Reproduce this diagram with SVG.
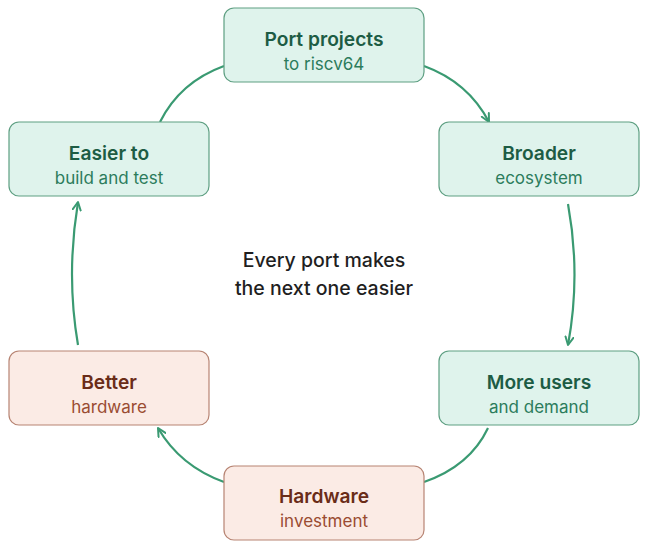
<svg xmlns="http://www.w3.org/2000/svg" width="651" height="546" viewBox="0 0 651 546">
<defs>
<marker id="arr" viewBox="0 0 10 10" refX="9" refY="5" markerWidth="10" markerHeight="10" markerUnits="userSpaceOnUse" orient="auto">
<path d="M1,1 L9,5 L1,9" fill="none" stroke="#3a9a72" stroke-width="2" stroke-linecap="round" stroke-linejoin="round"/>
</marker>
<style>
.g rect{fill:#dff3ec;stroke:#5e9f82;stroke-width:1.2}
.r rect{fill:#fbebe5;stroke:#b78473;stroke-width:1.2}
text{font-family:Inter,"Noto Sans","Liberation Sans",sans-serif;text-anchor:middle}
.t{font-size:19.2px;font-weight:600}
.s{font-size:17px}
.g .t{fill:#1d5c44}.g .s{fill:#2c7c5c}
.r .t{fill:#6a2c18}.r .s{fill:#9a4c32}
.c path{fill:none;stroke:#3a9a72;stroke-width:2.2}
.mid{font-size:19.5px;font-weight:500;fill:#1f1f1f}
</style>
</defs>
<g class="c" id="connectors">
<path d="M160,122 Q180,82 224,66"/>
<path d="M424,66 Q468,82 489,122" marker-end="url(#arr)"/>
<path d="M568,204 Q581,275 568,345" marker-end="url(#arr)"/>
<path d="M488,428 Q470,466 424,482"/>
<path d="M224,482 Q180,466 158,428" marker-end="url(#arr)"/>
<path d="M78,345 Q66,275 78,202" marker-end="url(#arr)"/>
</g>
<g id="port" class="g"><rect x="224" y="8" width="200" height="74" rx="10"/><text class="t" x="324" y="46">Port projects</text><text class="s" x="324" y="70">to riscv64</text></g>
<g id="easier" class="g"><rect x="9" y="122" width="200" height="74" rx="10"/><text class="t" x="109" y="160">Easier to</text><text class="s" x="109" y="184">build and test</text></g>
<g id="broader" class="g"><rect x="439" y="122" width="200" height="74" rx="10"/><text class="t" x="539" y="160">Broader</text><text class="s" x="539" y="184">ecosystem</text></g>
<g id="better" class="r"><rect x="9" y="351" width="200" height="74" rx="10"/><text class="t" x="109" y="389">Better</text><text class="s" x="109" y="413">hardware</text></g>
<g id="users" class="g"><rect x="439" y="351" width="200" height="74" rx="10"/><text class="t" x="539" y="389">More users</text><text class="s" x="539" y="413">and demand</text></g>
<g id="hardware" class="r"><rect x="224" y="466" width="200" height="74" rx="10"/><text class="t" x="324" y="503">Hardware</text><text class="s" x="324" y="527">investment</text></g>
<g id="center"><text class="mid" x="324" y="267">Every port makes</text><text class="mid" x="324" y="295">the next one easier</text></g>
</svg>
